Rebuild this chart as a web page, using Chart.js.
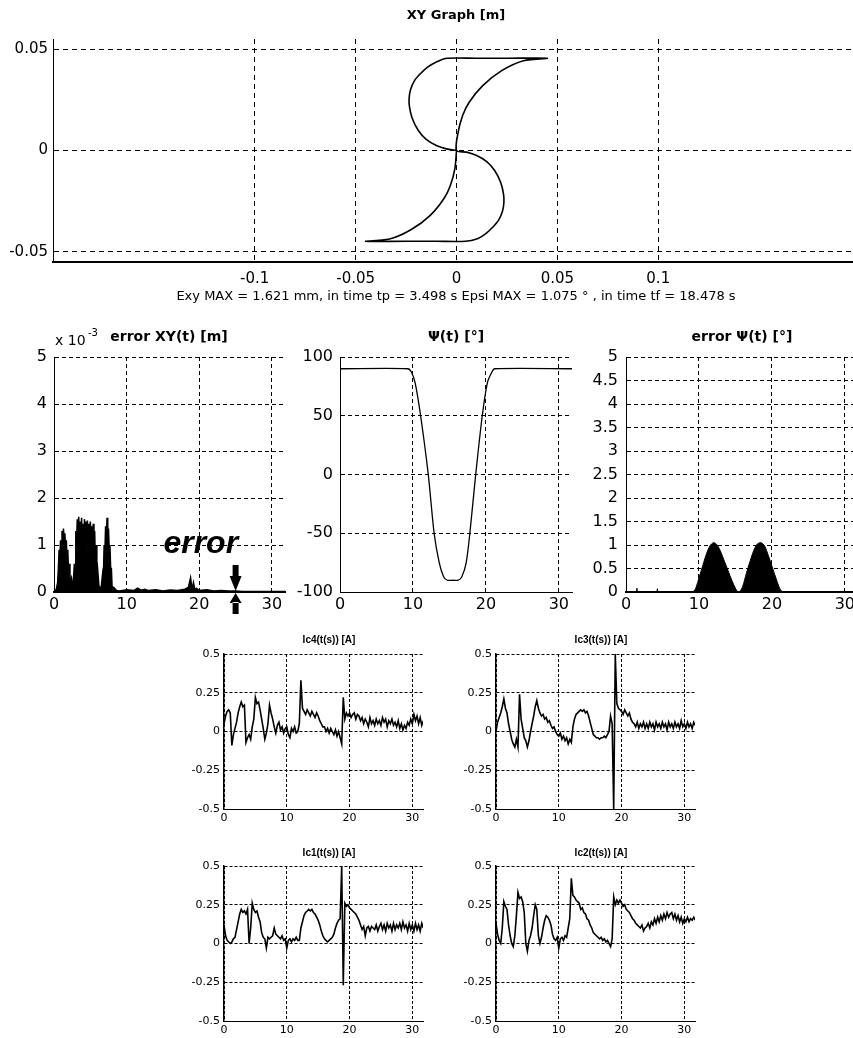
<!DOCTYPE html>
<html><head><meta charset="utf-8">
<script src="https://cdn.jsdelivr.net/npm/chart.js@4.4.1/dist/chart.umd.min.js"></script>
<style>
html,body{margin:0;padding:0;background:#fff;width:853px;height:1038px;overflow:hidden;position:relative}
canvas{position:absolute}
</style></head><body>
<script>
// ---------------- DATA ----------------
// XY trajectory [m]
const xyX = [0, -0.005, -0.010, -0.015, -0.019, -0.022, -0.0233, -0.0235, -0.0228, -0.0208, -0.0178, -0.0145, -0.010, -0.0045,
  0.010, 0.025, 0.045,
  0.0332, 0.0224, 0.013, 0.0062, 0.003, 0.0008, 0,
  0.005, 0.010, 0.015, 0.019, 0.022, 0.0233, 0.0235, 0.0228, 0.0208, 0.0178, 0.0145, 0.010, 0.0045,
  -0.010, -0.025, -0.045,
  -0.0332, -0.0224, -0.013, -0.0062, -0.003, -0.0008, 0];
const xyY = [0, 0.0008, 0.0025, 0.0055, 0.010, 0.016, 0.0215, 0.0255, 0.030, 0.0345, 0.038, 0.041, 0.0437, 0.0455,
  0.0455, 0.0455, 0.0455,
  0.0443, 0.0394, 0.032, 0.0237, 0.0171, 0.0089, 0,
  -0.0008, -0.0025, -0.0055, -0.010, -0.016, -0.0215, -0.0255, -0.030, -0.0345, -0.038, -0.041, -0.0437, -0.0448,
  -0.0448, -0.0448, -0.0448,
  -0.0437, -0.039, -0.032, -0.0237, -0.0171, -0.0089, 0];
const xyXTicks = [-0.1, -0.05, 0, 0.05, 0.1];
const xyYTicks = [-0.05, 0, 0.05];

// error XY(t) [x 10^-3 m]
const errXYt = [0, 0.3, 0.5, 0.6, 0.7, 0.8, 0.9, 1.0, 1.1, 1.2, 1.3, 1.4, 1.5, 1.6, 1.7, 1.8, 1.9, 2.0, 2.1, 2.2, 2.4, 2.6,
  2.8, 2.9, 3.0, 3.1, 3.2, 3.3, 3.4, 3.5, 3.6, 3.7, 3.8, 3.9, 4.0, 4.1, 4.2, 4.3, 4.4, 4.5, 4.6, 4.7, 4.8, 4.9, 5.0,
  5.1, 5.2, 5.3, 5.4, 5.5, 5.6, 5.7, 5.8, 5.9, 6.0, 6.2, 6.5, 6.7, 6.8, 6.9, 7.0, 7.1, 7.2, 7.3, 7.4, 7.5, 7.6, 7.7,
  7.8, 7.9, 8.0, 8.2, 8.6, 9, 10, 11, 11.5, 12, 12.5, 13, 14, 15, 16, 17, 18, 18.5, 18.8, 19.0, 19.2, 19.4, 19.6, 20,
  21, 22, 23, 24, 25, 26, 28, 30, 31.8];
const errXYv = [0.02, 0.05, 0.2, 0.5, 0.9, 0.7, 1.1, 0.9, 1.3, 1.0, 1.35, 1.1, 1.25, 0.9, 1.1, 0.6, 0.9, 0.4, 0.6, 0.2, 0.3, 0.05,
  0.6, 0.4, 1.3, 1.0, 1.55, 1.1, 1.6, 1.2, 1.5, 1.1, 1.58, 0.6, 1.45, 1.2, 1.55, 1.0, 1.5, 1.2, 1.52, 0.7, 1.45, 1.1, 1.5,
  1.2, 1.4, 0.8, 1.45, 1.1, 1.3, 0.6, 1.0, 0.4, 0.5, 0.1, 0.1, 0.4, 0.3, 1.0, 0.8, 1.4, 1.1, 1.58, 1.0, 1.35, 0.9, 1.0,
  0.5, 0.5, 0.1, 0.1, 0.03, 0.02, 0.05, 0.03, 0.08, 0.04, 0.06, 0.03, 0.05, 0.02, 0.04, 0.03, 0.06, 0.1, 0.3, 0.05, 0.2, 0.04, 0.08, 0.03,
  0.05, 0.02, 0.03, 0.02, 0.02, 0.01, 0.01, 0.01, 0.01];
const errXYTicks = [0, 1, 2, 3, 4, 5];

// Psi(t) [deg]
const psiT = [0, 9.3, 9.8, 10.3, 11.05, 12.1, 12.9, 13.6, 14.2, 14.7, 15.5, 16.2, 16.7, 17.3, 17.8, 18.6, 19.5, 20.2, 20.8, 21.2, 31.8];
const psiV = [90, 90, 87, 78, 50, 0, -50, -75, -87, -90, -90, -90, -87, -75, -50, 0, 50, 78, 87, 90, 90];
const psiTicks = [-100, -50, 0, 50, 100];

// error Psi(t) [deg]
const errPsiT = [0, 1.4, 1.5, 1.6, 4.2, 4.3, 4.4, 9.2, 9.6, 10, 10.5, 11, 11.5, 12, 12.5, 13, 13.5, 14, 14.5, 15, 15.3, 15.6,
  16, 16.5, 17, 17.5, 18, 18.5, 19, 19.5, 20, 20.5, 21, 21.4, 22, 31.8];
const errPsiV = [0.01, 0.01, 0.08, 0.01, 0.01, 0.07, 0.01, 0.01, 0.1, 0.3, 0.55, 0.8, 0.98, 1.05, 1.0, 0.85, 0.65, 0.45, 0.25, 0.08, 0.01, 0.01,
  0.12, 0.4, 0.65, 0.88, 1.02, 1.05, 0.98, 0.78, 0.55, 0.32, 0.1, 0.01, 0.01, 0.01];
const errPsiTicks = [0, 0.5, 1, 1.5, 2, 2.5, 3, 3.5, 4, 4.5, 5];

const timeTicks = [0, 10, 20, 30];

// currents [A], sampled every 0.25 s
const tI = [0, 0.25, 0.5, 0.75, 1, 1.25, 1.5, 1.75, 2, 2.25, 2.5, 2.75, 3, 3.25, 3.5, 3.75,
  4, 4.25, 4.5, 4.75, 5, 5.25, 5.5, 5.75, 6, 6.25, 6.5, 6.75, 7, 7.25, 7.5, 7.75,
  8, 8.25, 8.5, 8.75, 9, 9.25, 9.5, 9.75, 10, 10.25, 10.5, 10.75, 11, 11.25, 11.5, 11.75,
  12, 12.25, 12.5, 12.75, 13, 13.25, 13.5, 13.75, 14, 14.25, 14.5, 14.75, 15, 15.25, 15.5, 15.75,
  16, 16.25, 16.5, 16.75, 17, 17.25, 17.5, 17.75, 18, 18.25, 18.5, 18.75, 19, 19.25, 19.5, 19.75,
  20, 20.25, 20.5, 20.75, 21, 21.25, 21.5, 21.75, 22, 22.25, 22.5, 22.75, 23, 23.25, 23.5, 23.75,
  24, 24.25, 24.5, 24.75, 25, 25.25, 25.5, 25.75, 26, 26.25, 26.5, 26.75, 27, 27.25, 27.5, 27.75,
  28, 28.25, 28.5, 28.75, 29, 29.25, 29.5, 29.75, 30, 30.25, 30.5, 30.75, 31, 31.25, 31.5, 31.75];
const ic4 = [0.05, 0.10, 0.13, 0.14, 0.12, -0.09, -0.02, 0.02, 0.06, 0.12, 0.16, 0.19, 0.16, 0.17, -0.07, -0.04,
  -0.02, -0.05, 0.03, 0.08, 0.22, 0.18, 0.19, 0.14, 0.08, 0.02, -0.05, -0.01, 0.05, 0.17, 0.12, 0.08,
  0.03, -0.01, 0.04, 0.06, 0.01, 0.03, -0.01, 0.02, 0.03, -0.02, -0.04, 0.02, 0.00, 0.03, -0.01, 0.00,
  0.05, 0.33, 0.15, 0.13, 0.11, 0.14, 0.12, 0.10, 0.13, 0.11, 0.09, 0.12, 0.10, 0.07, 0.05, 0.03,
  0.03, 0.00, 0.02, -0.01, 0.02, 0.00, -0.02, 0.01, -0.03, 0.00, -0.04, -0.08, 0.22, 0.08, 0.12, 0.10,
  0.12, 0.09, 0.11, 0.12, 0.08, 0.11, 0.10, 0.07, 0.09, 0.05, 0.08, 0.06, 0.03, 0.09, 0.05, 0.07,
  0.04, 0.08, 0.05, 0.07, 0.04, 0.09, 0.06, 0.08, 0.03, 0.07, 0.05, 0.08, 0.04, 0.06, 0.03, 0.07,
  0.02, 0.05, 0.01, 0.04, 0.02, 0.06, 0.04, 0.08, 0.05, 0.11, 0.07, 0.10, 0.05, 0.09, 0.04, 0.07];
const ic3 = [0.00, 0.06, 0.09, 0.12, 0.16, 0.21, 0.15, 0.12, 0.05, 0.00, -0.05, -0.08, -0.10, -0.05, -0.10, 0.24,
  0.08, 0.02, -0.04, -0.06, -0.10, -0.06, 0.00, 0.05, 0.10, 0.16, 0.20, 0.15, 0.12, 0.10, 0.11, 0.08,
  0.09, 0.06, 0.07, 0.04, 0.02, 0.03, 0.00, -0.02, -0.03, -0.01, -0.05, -0.03, -0.06, -0.04, -0.08, -0.05,
  -0.07, 0.03, 0.08, 0.11, 0.12, 0.13, 0.14, 0.13, 0.14, 0.12, 0.13, 0.10, 0.06, 0.02, -0.02, -0.03,
  -0.04, -0.04, -0.05, -0.04, -0.04, -0.03, -0.04, -0.02, 0.00, 0.10, 0.05, -0.50, 0.50, 0.18, 0.15, 0.14,
  0.13, 0.11, 0.14, 0.12, 0.10, 0.12, 0.08, 0.06, 0.05, 0.03, 0.06, 0.02, 0.05, 0.03, 0.06, 0.02,
  0.05, 0.02, 0.06, 0.03, 0.05, 0.01, 0.06, 0.03, 0.05, 0.02, 0.06, 0.03, 0.05, 0.01, 0.06, 0.03,
  0.05, 0.02, 0.06, 0.03, 0.05, 0.02, 0.07, 0.03, 0.05, 0.02, 0.06, 0.03, 0.05, 0.02, 0.06, 0.04];
const ic1 = [0.12, 0.05, 0.02, 0.01, 0.00, 0.01, 0.03, 0.04, 0.09, 0.14, 0.19, 0.22, 0.20, 0.21, 0.19, 0.22,
  0.00, 0.10, 0.26, 0.22, 0.20, 0.21, 0.17, 0.14, 0.07, 0.04, 0.03, -0.03, 0.04, 0.03, 0.04, 0.05,
  0.10, 0.06, 0.05, 0.04, 0.03, 0.05, 0.02, 0.03, -0.03, 0.02, 0.03, 0.01, 0.03, 0.02, 0.04, 0.02,
  0.02, 0.10, 0.14, 0.18, 0.20, 0.21, 0.22, 0.21, 0.22, 0.20, 0.19, 0.17, 0.15, 0.12, 0.08, 0.05,
  0.03, 0.02, 0.01, 0.02, 0.03, 0.04, 0.06, 0.10, 0.13, 0.15, 0.16, 0.50, -0.27, 0.26, 0.24, 0.25,
  0.23, 0.22, 0.21, 0.20, 0.19, 0.17, 0.15, 0.12, 0.09, 0.11, 0.05, 0.10, 0.11, 0.08, 0.11, 0.10,
  0.09, 0.12, 0.08, 0.11, 0.13, 0.09, 0.12, 0.08, 0.13, 0.10, 0.12, 0.08, 0.13, 0.09, 0.12, 0.10,
  0.13, 0.09, 0.14, 0.10, 0.12, 0.08, 0.13, 0.09, 0.12, 0.08, 0.13, 0.09, 0.12, 0.08, 0.13, 0.10];
const ic2 = [0.13, 0.06, 0.02, 0.00, 0.10, 0.27, 0.24, 0.22, 0.12, 0.05, 0.00, -0.02, 0.05, 0.18, 0.33, 0.29,
  0.30, 0.27, 0.20, 0.00, -0.05, 0.02, 0.05, 0.10, 0.18, 0.25, 0.22, 0.05, 0.00, 0.04, 0.10, 0.15,
  0.18, 0.17, 0.15, 0.12, 0.06, 0.03, 0.02, 0.04, -0.03, 0.03, 0.04, 0.02, 0.05, 0.04, 0.10, 0.16,
  0.42, 0.31, 0.30, 0.28, 0.27, 0.26, 0.22, 0.23, 0.20, 0.19, 0.16, 0.15, 0.12, 0.10, 0.07, 0.06,
  0.05, 0.04, 0.03, 0.04, 0.02, 0.03, 0.01, 0.02, 0.00, -0.02, 0.03, 0.30, 0.25, 0.28, 0.26, 0.28,
  0.26, 0.24, 0.25, 0.22, 0.21, 0.20, 0.18, 0.16, 0.15, 0.13, 0.12, 0.11, 0.10, 0.12, 0.08, 0.10,
  0.11, 0.13, 0.10, 0.14, 0.12, 0.16, 0.13, 0.17, 0.14, 0.18, 0.15, 0.19, 0.16, 0.20, 0.17, 0.19,
  0.20, 0.16, 0.19, 0.15, 0.18, 0.14, 0.17, 0.13, 0.16, 0.14, 0.17, 0.14, 0.16, 0.15, 0.17, 0.15];
const currentTicks = [-0.5, -0.25, 0, 0.25, 0.5];

// annotation
const arrowT = 25;
const errorLabelT = 20.2, errorLabelV = 0.82;

// ---------------- RENDER ----------------
const FAM = '"DejaVu Sans", "Liberation Sans", sans-serif';
const zip = (a, b) => a.map((v, i) => ({x: v, y: b[i]}));

function mkAnnot(items, extra) {
  return { id: 'annot', afterDraw(chart) {
    const ctx = chart.ctx;
    const ox = parseFloat(chart.canvas.style.left), oy = parseFloat(chart.canvas.style.top);
    items.forEach(it => {
      ctx.save();
      ctx.font = it.font; ctx.fillStyle = '#000';
      ctx.textAlign = it.align || 'center'; ctx.textBaseline = it.base || 'middle';
      ctx.fillText(it.text, it.x - ox, it.y - oy);
      ctx.restore();
    });
    if (extra) extra(chart, ctx);
  }};
}

function axis(p, isX) {
  const ticks = isX ? p.xt : p.yt;
  return {
    type: 'linear', bounds: 'data',
    min: isX ? p.xmin : p.ymin, max: isX ? p.xmax : p.ymax,
    afterBuildTicks: s => { s.ticks = ticks.map(v => ({value: v})); },
    afterFit: s => {
      if (isX) { s.height = p.xH; s.paddingLeft = 0; s.paddingRight = 0; }
      else { s.width = p.yW; s.paddingTop = 0; s.paddingBottom = 0; }
    },
    grid: { color: '#000', lineWidth: 1, drawTicks: false },
    border: { display: true, color: '#000', width: isX ? (p.bxW || 1) : (p.byW || 1), dash: p.dash },
    ticks: { padding: isX ? p.xpad : p.ypad, color: '#000', font: {family: FAM, size: p.fs},
      maxRotation: 0, autoSkip: false, callback: v => String(v) }
  };
}

function makeChart(p) {
  const cv = document.createElement('canvas');
  const W = p.yW + p.w + p.padR, H = p.padT + p.h + p.xH;
  cv.width = W; cv.height = H;
  cv.style.width = W + 'px'; cv.style.height = H + 'px';
  cv.style.left = (p.x - p.yW) + 'px'; cv.style.top = (p.y - p.padT) + 'px';
  document.body.appendChild(cv);
  return new Chart(cv, {
    type: 'scatter',
    data: { datasets: p.datasets },
    options: {
      responsive: false, animation: false, devicePixelRatio: 1,
      layout: { padding: { top: p.padT, right: p.padR, left: 0, bottom: 0 } },
      plugins: { legend: { display: false }, tooltip: { enabled: false } },
      scales: { x: axis(p, true), y: axis(p, false) }
    },
    plugins: [mkAnnot(p.items || [], p.extra)]
  });
}

function lineDs(data, opt) {
  return Object.assign({ data, showLine: true, pointRadius: 0, borderColor: '#000', borderWidth: 1,
    backgroundColor: '#000', fill: false, tension: 0 }, opt || {});
}

// XY graph
makeChart({
  x: 53, y: 39, w: 807, h: 223, yW: 53, padT: 39, padR: 0, xH: 52,
  xmin: -0.2, xmax: 0.2, ymin: -0.055, ymax: 0.055, xt: xyXTicks, yt: xyYTicks,
  fs: 15, xpad: 8, ypad: 5, dash: [5, 4], bxW: 2,
  datasets: [lineDs(zip(xyX, xyY), { borderWidth: 1.6, tension: 0.3 })],
  items: [
    { text: 'XY Graph [m]', x: 456, y: 16, font: 'bold 13px ' + FAM },
    { text: 'Exy MAX = 1.621 mm, in time tp = 3.498 s Epsi MAX = 1.075 ° , in time tf = 18.478 s', x: 456, y: 297, font: '13px ' + FAM }
  ]
});

// error XY
makeChart({
  x: 54, y: 357, w: 231, h: 235, yW: 54, padT: 37, padR: 2, xH: 24,
  xmin: 0, xmax: 31.8, ymin: 0, ymax: 5, xt: timeTicks, yt: errXYTicks,
  fs: 16, xpad: 3, ypad: 7, dash: [4, 3], bxW: 2,
  datasets: [lineDs(zip(errXYt, errXYv), { fill: 'origin', borderWidth: 1.5 })],
  items: [
    { text: 'x 10', x: 55, y: 341, font: '14px ' + FAM, align: 'left' },
    { text: '-3', x: 88, y: 333, font: '10px ' + FAM, align: 'left' },
    { text: 'error XY(t) [m]', x: 169, y: 337, font: 'bold 14px ' + FAM }
  ],
  extra: (chart, ctx) => {
    const xs = chart.scales.x, ys = chart.scales.y;
    ctx.save();
    ctx.font = 'italic bold 32px "Liberation Sans", Arial, sans-serif';
    ctx.fillStyle = '#000'; ctx.textAlign = 'center'; ctx.textBaseline = 'alphabetic';
    ctx.fillText('error', xs.getPixelForValue(errorLabelT), ys.getPixelForValue(errorLabelV));
    const ax = xs.getPixelForValue(arrowT), ay = ys.getPixelForValue(0);
    ctx.beginPath();
    ctx.rect(ax - 3, ay - 27, 6, 12);
    ctx.moveTo(ax - 6, ay - 16); ctx.lineTo(ax + 6, ay - 16); ctx.lineTo(ax, ay - 1); ctx.closePath();
    ctx.moveTo(ax - 6, ay + 11); ctx.lineTo(ax + 6, ay + 11); ctx.lineTo(ax, ay + 1); ctx.closePath();
    ctx.rect(ax - 3, ay + 10, 6, 12);
    ctx.fill();
    ctx.restore();
  }
});

// Psi
makeChart({
  x: 340, y: 357, w: 232, h: 235, yW: 52, padT: 37, padR: 2, xH: 24,
  xmin: 0, xmax: 31.8, ymin: -100, ymax: 100, xt: timeTicks, yt: psiTicks,
  fs: 16, xpad: 3, ypad: 7, dash: [4, 3],
  datasets: [lineDs(zip(psiT, psiV), { borderWidth: 1.3, tension: 0.25 })],
  items: [ { text: 'Ψ(t) [°]', x: 456, y: 337, font: 'bold 14px ' + FAM } ]
});

// error Psi
makeChart({
  x: 626, y: 357, w: 232, h: 235, yW: 50, padT: 37, padR: 0, xH: 24,
  xmin: 0, xmax: 31.8, ymin: 0, ymax: 5, xt: timeTicks, yt: errPsiTicks,
  fs: 16, xpad: 3, ypad: 8, dash: [4, 3], bxW: 2,
  datasets: [lineDs(zip(errPsiT, errPsiV), { fill: 'origin', tension: 0.3 })],
  items: [ { text: 'error Ψ(t) [°]', x: 742, y: 337, font: 'bold 14px ' + FAM } ]
});

// current panels
const small = { w: 199, h: 155, yW: 46, padT: 26, padR: 2, xH: 22,
  xmin: 0, xmax: 31.7, ymin: -0.5, ymax: 0.5, xt: timeTicks, yt: currentTicks,
  fs: 11, xpad: 3, ypad: 4, dash: [3, 2], byW: 1.5 };
const TFONT = 'bold 10px "Liberation Sans", Arial, sans-serif';
const curDs = d => [lineDs(zip(tI, d), { borderWidth: 1.6 })];
makeChart(Object.assign({}, small, { x: 224, y: 654, datasets: curDs(ic4),
  items: [ { text: 'Ic4(t(s)) [A]', x: 329, y: 640, font: TFONT } ] }));
makeChart(Object.assign({}, small, { x: 496, y: 654, datasets: curDs(ic3),
  items: [ { text: 'Ic3(t(s)) [A]', x: 601, y: 640, font: TFONT } ] }));
makeChart(Object.assign({}, small, { x: 224, y: 866, datasets: curDs(ic1),
  items: [ { text: 'Ic1(t(s)) [A]', x: 329, y: 853, font: TFONT } ] }));
makeChart(Object.assign({}, small, { x: 496, y: 866, datasets: curDs(ic2),
  items: [ { text: 'Ic2(t(s)) [A]', x: 601, y: 853, font: TFONT } ] }));
</script>
</body></html>
